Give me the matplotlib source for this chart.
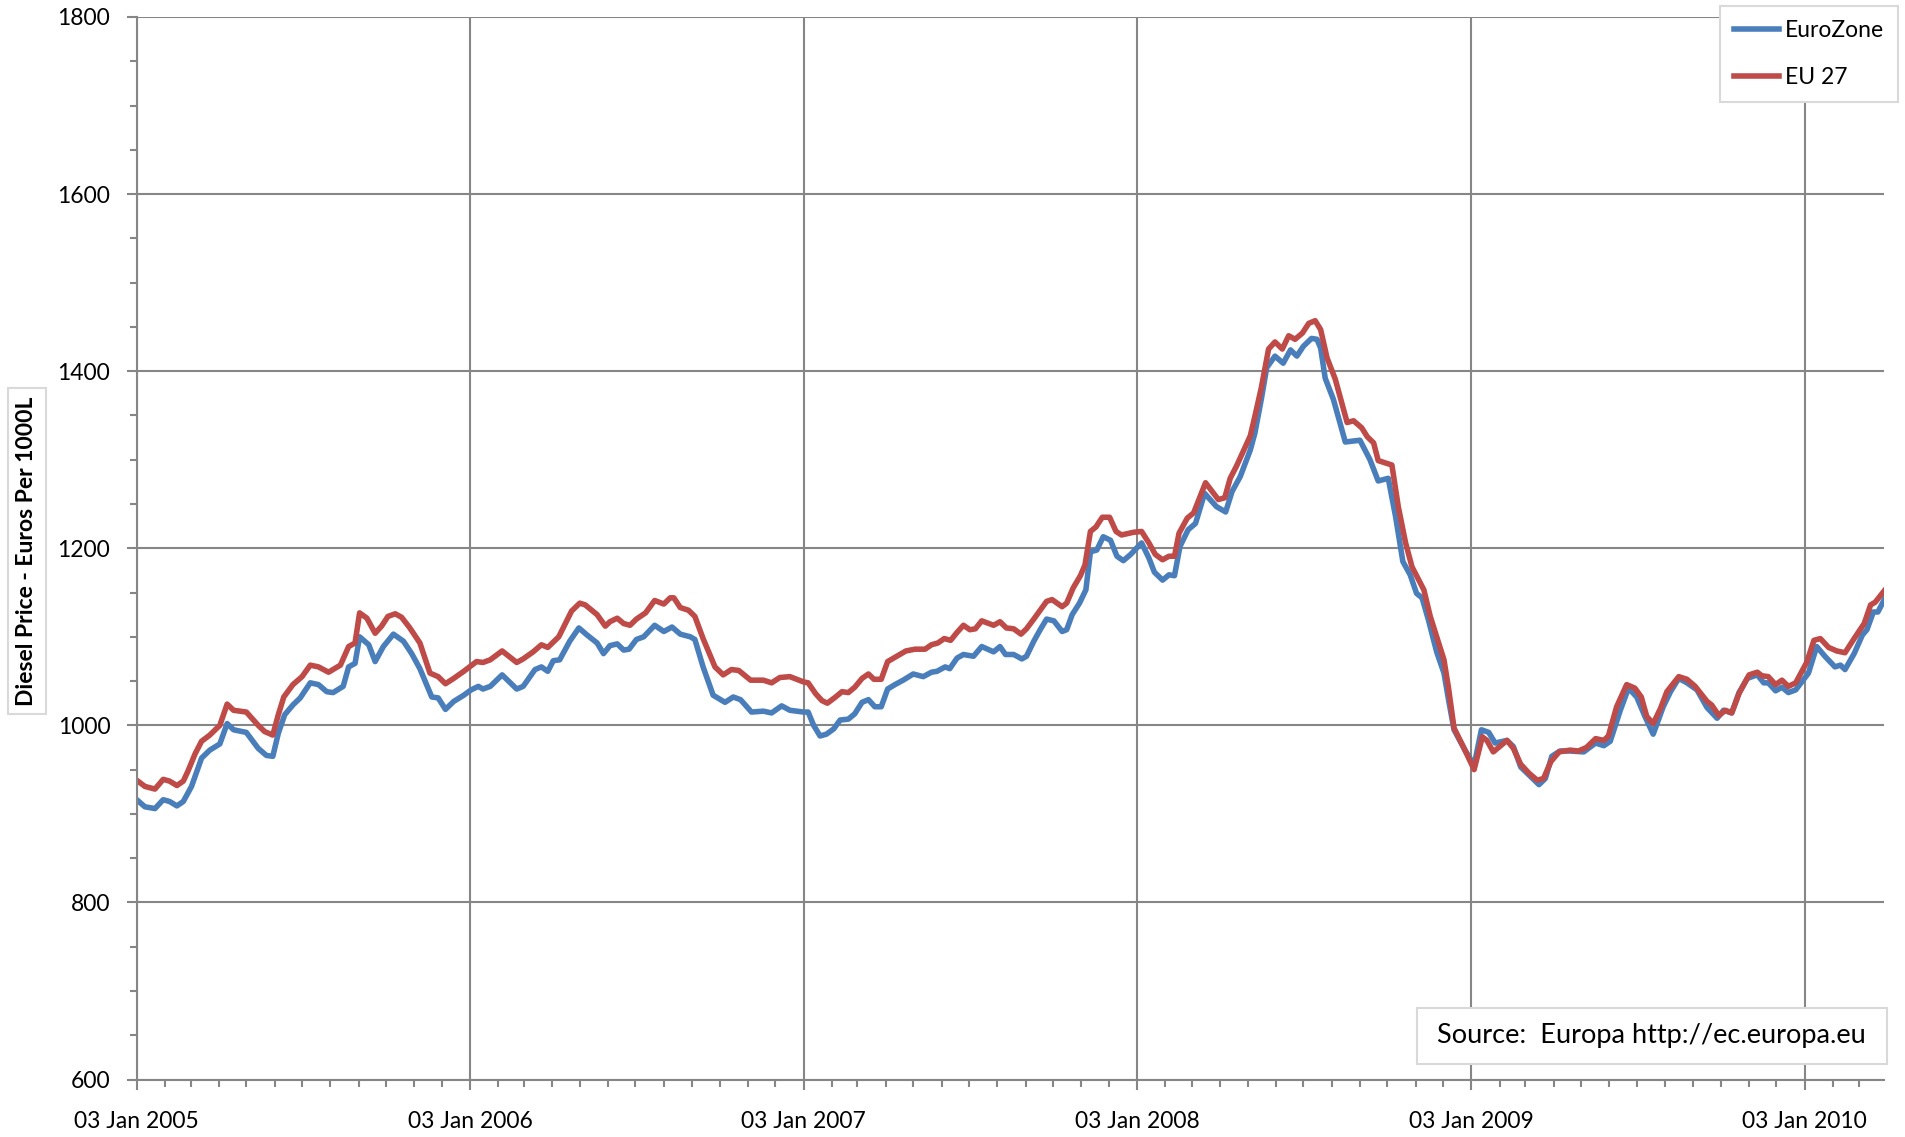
import numpy as np
import matplotlib
matplotlib.use('Agg')
import matplotlib.pyplot as plt
import matplotlib.dates as mdates
from matplotlib.patches import Rectangle

plt.rcParams['font.family'] = ['Lato', 'DejaVu Sans']

# weekly diesel prices (days counted from 03 Jan 2005)
start = np.datetime64('2005-01-03')

eurozone_day = [0, 9, 20, 29, 36, 44, 51, 60, 71, 80, 91, 99, 106, 120, 133, 142, 149, 155, 162, 171,
                179, 190, 199, 208, 215, 226, 232, 239, 244, 254, 261, 270, 281, 292, 301, 310, 323, 330, 338, 347,
                358, 366, 374, 379, 387, 400, 416, 423, 436, 443, 450, 456, 463, 474, 484, 493, 504, 511, 518, 526,
                533, 539, 547, 555, 567, 577, 586, 595, 606, 611, 620, 631, 644, 653, 661, 673, 686, 695, 706, 715,
                730, 735, 741, 748, 755, 763, 770, 779, 786, 794, 801, 808, 815, 822, 830, 839, 850, 861, 870, 876,
                885, 890, 898, 905, 916, 925, 938, 945, 951, 960, 969, 974, 982, 989, 996, 1004, 1013, 1018, 1024, 1032,
                1039, 1044, 1051, 1058, 1066, 1073, 1080, 1088, 1100, 1108, 1114, 1123, 1130, 1136, 1142, 1151, 1159, 1169, 1182, 1192,
                1199, 1208, 1219, 1224, 1231, 1237, 1246, 1255, 1263, 1270, 1277, 1286, 1292, 1296, 1301, 1310, 1323, 1339, 1350, 1359,
                1370, 1378, 1386, 1394, 1401, 1407, 1414, 1423, 1431, 1436, 1442, 1454, 1464, 1472, 1480, 1487, 1500, 1507, 1515, 1524,
                1535, 1542, 1549, 1558, 1569, 1584, 1597, 1606, 1613, 1624, 1633, 1642, 1651, 1660, 1671, 1679, 1688, 1697, 1708, 1719,
                1730, 1737, 1746, 1754, 1763, 1774, 1781, 1786, 1794, 1801, 1808, 1816, 1830, 1839, 1848, 1859, 1865, 1870, 1880, 1889,
                1894, 1901, 1906, 1913]
eurozone = [916, 908, 906, 916, 914, 909, 914, 931, 963, 972, 979, 1002, 995, 992, 974, 966, 965, 991, 1012, 1023,
            1031, 1048, 1046, 1038, 1037, 1044, 1066, 1070, 1100, 1091, 1072, 1089, 1103, 1095, 1081, 1064, 1032, 1031, 1018, 1027,
            1034, 1040, 1044, 1041, 1044, 1057, 1041, 1044, 1063, 1066, 1061, 1073, 1074, 1095, 1110, 1102, 1093, 1081, 1090, 1092,
            1085, 1086, 1097, 1100, 1113, 1106, 1111, 1103, 1100, 1097, 1066, 1034, 1026, 1032, 1029, 1015, 1016, 1014, 1022, 1017,
            1015, 1015, 1000, 988, 990, 996, 1006, 1007, 1013, 1026, 1029, 1021, 1021, 1041, 1046, 1051, 1058, 1055, 1060, 1061,
            1066, 1064, 1076, 1080, 1078, 1089, 1083, 1089, 1080, 1080, 1075, 1078, 1095, 1108, 1120, 1118, 1106, 1108, 1125, 1138,
            1153, 1196, 1198, 1213, 1209, 1191, 1186, 1193, 1206, 1189, 1173, 1164, 1170, 1169, 1202, 1221, 1228, 1262, 1247, 1241,
            1264, 1281, 1311, 1330, 1368, 1404, 1417, 1409, 1424, 1417, 1428, 1437, 1436, 1426, 1392, 1368, 1320, 1322, 1300, 1276,
            1279, 1236, 1185, 1170, 1149, 1144, 1119, 1083, 1059, 1029, 995, 972, 955, 995, 992, 980, 983, 976, 953, 944,
            933, 940, 965, 971, 971, 970, 980, 977, 982, 1017, 1042, 1032, 1010, 990, 1021, 1038, 1053, 1048, 1040, 1020,
            1008, 1017, 1014, 1037, 1053, 1057, 1048, 1048, 1039, 1043, 1037, 1040, 1059, 1089, 1078, 1066, 1068, 1063, 1081, 1102,
            1108, 1128, 1128, 1142]

eu27_day = [0, 9, 20, 29, 36, 44, 51, 56, 64, 71, 80, 91, 99, 106, 120, 133, 140, 149, 155, 161,
            171, 181, 190, 199, 210, 223, 232, 239, 244, 252, 261, 268, 275, 283, 290, 299, 310, 321, 330, 338,
            347, 358, 372, 379, 387, 400, 416, 423, 434, 443, 450, 462, 476, 485, 491, 504, 513, 518, 526, 533,
            540, 547, 557, 567, 577, 584, 588, 595, 604, 611, 620, 633, 642, 651, 659, 672, 686, 695, 704, 715,
            730, 735, 743, 750, 756, 765, 772, 779, 786, 794, 801, 807, 815, 822, 832, 842, 852, 863, 870, 877,
            884, 891, 898, 905, 912, 918, 925, 938, 945, 952, 960, 968, 974, 982, 989, 996, 1002, 1013, 1018, 1025,
            1033, 1038, 1044, 1050, 1057, 1065, 1072, 1078, 1091, 1100, 1108, 1115, 1123, 1130, 1136, 1141, 1150, 1157, 1170, 1184,
            1191, 1197, 1204, 1212, 1219, 1224, 1231, 1239, 1246, 1254, 1261, 1268, 1276, 1283, 1290, 1296, 1303, 1312, 1325, 1332,
            1341, 1347, 1354, 1359, 1374, 1381, 1389, 1396, 1409, 1416, 1431, 1436, 1442, 1453, 1464, 1473, 1478, 1485, 1500, 1507,
            1515, 1524, 1533, 1540, 1548, 1557, 1569, 1578, 1587, 1597, 1606, 1611, 1620, 1631, 1640, 1647, 1653, 1660, 1668, 1675,
            1688, 1697, 1706, 1719, 1724, 1732, 1739, 1746, 1754, 1765, 1774, 1779, 1786, 1794, 1801, 1808, 1816, 1828, 1836, 1843,
            1852, 1861, 1870, 1880, 1891, 1898, 1903, 1913]
eu27 = [938, 931, 928, 939, 937, 932, 937, 948, 968, 982, 989, 1000, 1024, 1017, 1015, 1000, 993, 989, 1012, 1032,
        1046, 1055, 1068, 1066, 1060, 1068, 1089, 1093, 1127, 1121, 1104, 1112, 1123, 1126, 1122, 1110, 1093, 1059, 1055, 1047,
        1053, 1061, 1072, 1071, 1074, 1084, 1071, 1075, 1083, 1091, 1088, 1100, 1129, 1138, 1136, 1125, 1112, 1117, 1121, 1115,
        1113, 1120, 1127, 1141, 1137, 1144, 1144, 1133, 1130, 1123, 1098, 1066, 1057, 1063, 1062, 1051, 1051, 1048, 1054, 1055,
        1049, 1048, 1036, 1028, 1025, 1032, 1038, 1037, 1043, 1053, 1058, 1052, 1052, 1072, 1078, 1084, 1086, 1086, 1091, 1093,
        1098, 1096, 1105, 1113, 1108, 1109, 1118, 1113, 1117, 1110, 1109, 1103, 1109, 1120, 1130, 1140, 1142, 1134, 1138, 1155,
        1169, 1181, 1219, 1224, 1235, 1235, 1219, 1215, 1218, 1219, 1206, 1193, 1187, 1191, 1191, 1217, 1234, 1240, 1274, 1255,
        1257, 1279, 1293, 1311, 1327, 1349, 1381, 1425, 1433, 1425, 1440, 1436, 1443, 1454, 1457, 1447, 1415, 1391, 1342, 1344,
        1336, 1326, 1319, 1299, 1294, 1247, 1206, 1179, 1153, 1123, 1074, 1042, 997, 974, 950, 987, 983, 970, 983, 974,
        956, 946, 938, 940, 959, 970, 972, 971, 975, 985, 983, 988, 1021, 1046, 1042, 1032, 1010, 1002, 1019, 1038,
        1055, 1052, 1044, 1027, 1023, 1011, 1017, 1014, 1036, 1057, 1060, 1056, 1055, 1046, 1051, 1044, 1048, 1071, 1096, 1098,
        1088, 1084, 1082, 1098, 1115, 1136, 1139, 1152]

ez_dates = start + np.array(eurozone_day).astype('timedelta64[D]')
eu_dates = start + np.array(eu27_day).astype('timedelta64[D]')

grey = '#868686'

fig = plt.figure(figsize=(19.05, 11.37), dpi=100)
ax = fig.add_axes([0.07176, 0.05057, 0.91737, 0.93448])

ax.plot(ez_dates, eurozone, color='#4A7EBB', lw=4, label='EuroZone', solid_joinstyle='round')
ax.plot(eu_dates, eu27, color='#BE4B48', lw=4, label='EU 27', solid_joinstyle='round')

ax.set_xlim(start, start + np.timedelta64(1913, 'D'))
ax.set_ylim(600, 1800)
ax.set_yticks(np.arange(600, 1801, 200))
ax.set_yticks(np.arange(600, 1801, 50), minor=True)

ax.xaxis.set_major_locator(mdates.YearLocator(1, month=1, day=3))
ax.xaxis.set_minor_locator(mdates.MonthLocator(bymonthday=3))
ax.xaxis.set_major_formatter(mdates.DateFormatter('%d %b %Y'))

ax.tick_params(which='major', length=7, width=1.5, color=grey, labelsize=16.5)
ax.tick_params(which='minor', length=5, width=1.5, color=grey)
ax.tick_params(axis='x', which='major', pad=16)
ax.tick_params(axis='y', which='major', pad=12)

ax.set_axisbelow(True)
ax.grid(True, which='major', color=grey, lw=1.5)
for s in ['top', 'right']:
    ax.spines[s].set_visible(False)
for s in ['left', 'bottom']:
    ax.spines[s].set_color(grey)
    ax.spines[s].set_linewidth(1.5)

leg = ax.legend(loc='upper right', bbox_to_anchor=(1898 / 1905, 1 - 6 / 1137), bbox_transform=fig.transFigure,
                fontsize=16.5, fancybox=False, edgecolor='#D9D9D9', framealpha=1, borderpad=0.6,
                handlelength=2.0, handletextpad=0.25, labelspacing=1.15, borderaxespad=0)
leg.get_frame().set_linewidth(1.5)

# source box
fig.add_artist(Rectangle((1417 / 1905, 1 - 1064 / 1137), 470 / 1905, 56 / 1137, transform=fig.transFigure,
                         facecolor='white', edgecolor='#D9D9D9', lw=1.5, zorder=5))
fig.text(1651 / 1905, 1 - 1036 / 1137, 'Source:  Europa http://ec.europa.eu', ha='center', va='center',
         fontsize=19.5, zorder=6)

fig.text(27 / 1905, 1 - 551 / 1137, 'Diesel Price - Euros Per 1000L', rotation=90, fontweight='bold',
         fontsize=16.5, ha='center', va='center',
         bbox=dict(boxstyle='square,pad=0.35', fc='white', ec='#D9D9D9', lw=1.5))

fig.savefig('out.png', dpi=100)
